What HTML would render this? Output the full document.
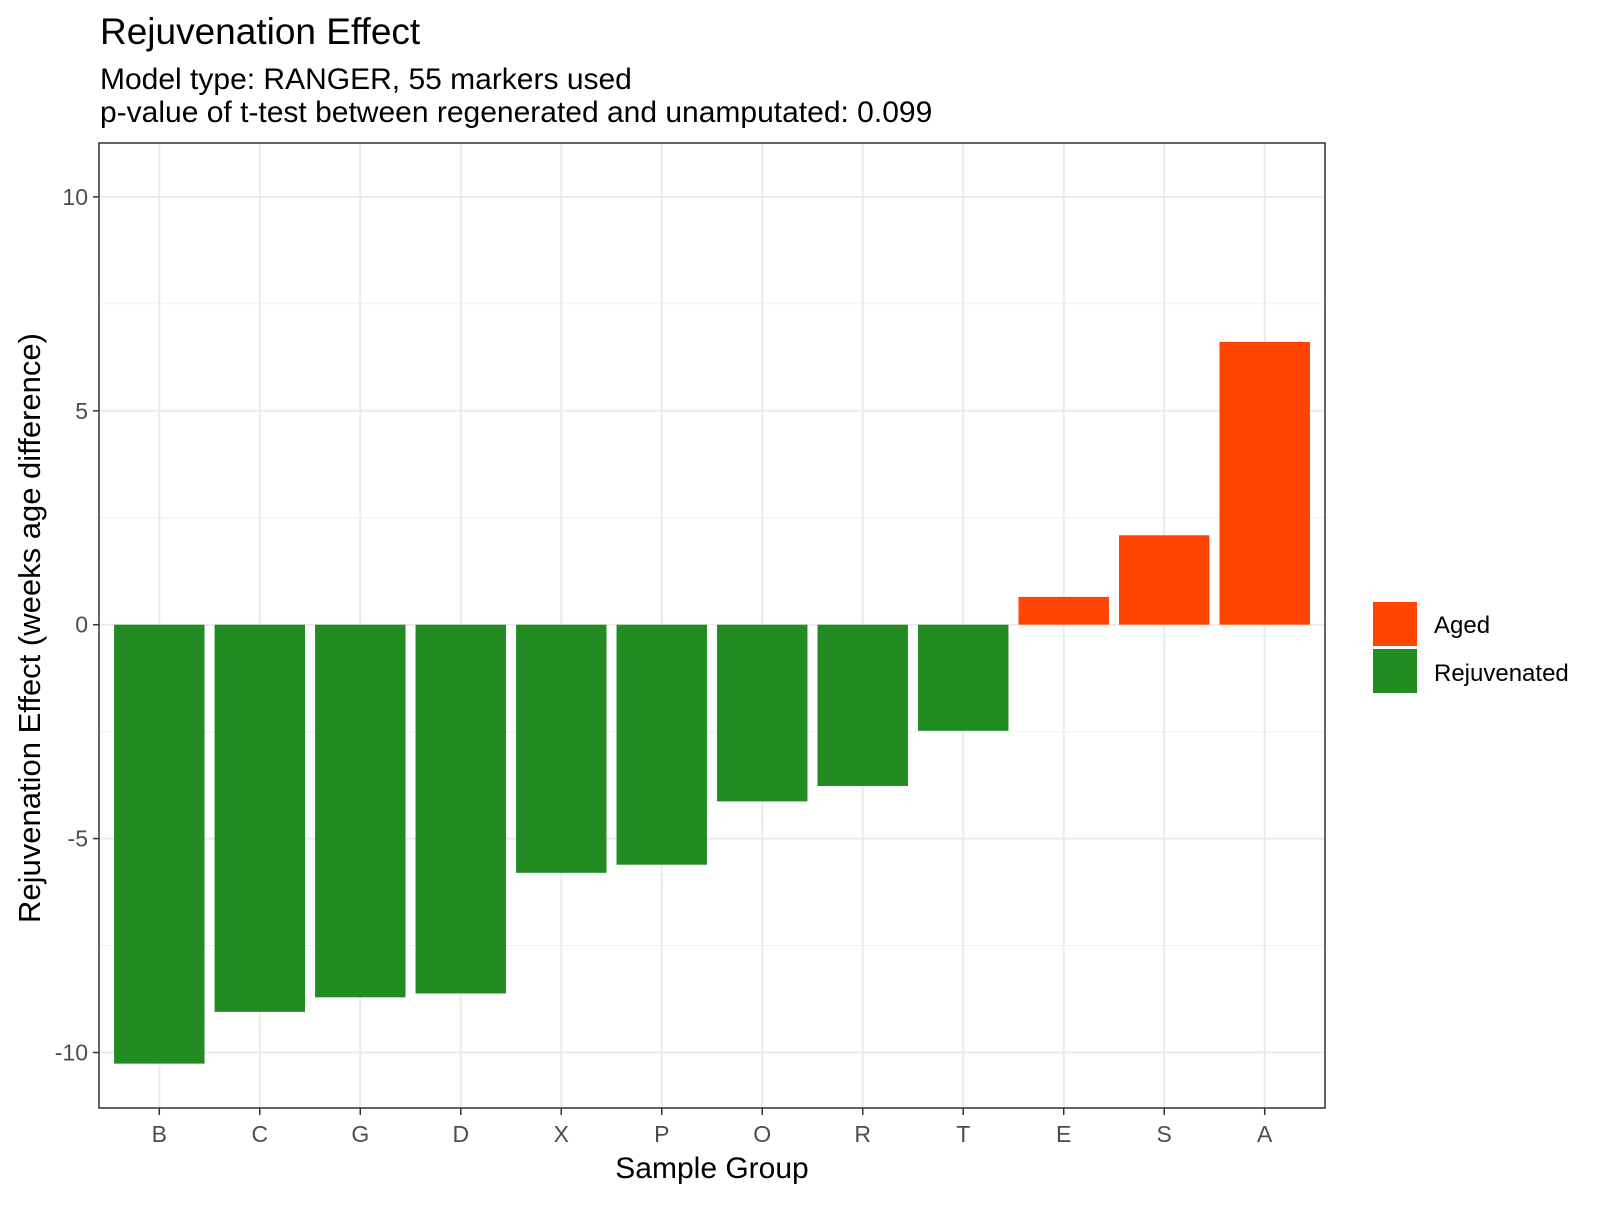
<!DOCTYPE html>
<html><head><meta charset="utf-8"><style>
body{margin:0;background:#fff;}
svg text{font-family:"Liberation Sans",Arial,sans-serif;}
</style></head><body>
<svg id="chart" width="1600" height="1200" viewBox="0 0 1600 1200" xmlns="http://www.w3.org/2000/svg">
<rect width="1600" height="1200" fill="#fff"/>
<text x="100" y="44" font-size="37" fill="#000">Rejuvenation Effect</text>
<text x="100" y="89" font-size="30" fill="#000">Model type: RANGER, 55 markers used</text>
<text x="100" y="122" font-size="30" fill="#000">p-value of t-test between regenerated and unamputated: 0.099</text>
<g id="grid"></g>
<g id="bars"></g>
<rect x="99" y="143" width="1226" height="965" fill="none" stroke="#333" stroke-width="1.5"/>
<g id="axes"></g>
<text x="712" y="1178" font-size="30" text-anchor="middle" fill="#000">Sample Group</text>
<text transform="translate(40,628) rotate(-90)" font-size="31" text-anchor="middle" fill="#000">Rejuvenation Effect (weeks age difference)</text>
<g>
<rect x="1373" y="602" width="44" height="44" fill="#FF4500"/>
<text x="1434" y="633" font-size="24" fill="#000">Aged</text>
<rect x="1373" y="649" width="44" height="44" fill="#228B22"/>
<text x="1434" y="681" font-size="24" fill="#000">Rejuvenated</text>
</g>
</svg>
<script>
const categories = ["B","C","G","D","X","P","O","R","T","E","S","A"];
const values = [-10.26,-9.05,-8.71,-8.62,-5.80,-5.61,-4.13,-3.77,-2.48,0.65,2.09,6.61];
const yTicks = [-10,-5,0,5,10];
const yMinorTicks = [-7.5,-2.5,2.5,7.5];

const NS="http://www.w3.org/2000/svg";
const PL=99, PR=1325, PT=143, PB=1108;
const Y0=624.7, PXU=42.78;
function yScale(v){return Y0 - v*PXU;}
const step=(PR-PL)/(categories.length+0.2);
function xCenter(i){return PL + step*(0.6+i);}
function mk(tag,attrs,parent){const e=document.createElementNS(NS,tag);for(const k in attrs)e.setAttribute(k,attrs[k]);parent.appendChild(e);return e;}
const grid=document.getElementById('grid'), bars=document.getElementById('bars'), axes=document.getElementById('axes');
yMinorTicks.forEach(v=>{const l=mk('line',{x1:PL,x2:PR,y1:yScale(v),y2:yScale(v),stroke:'#f0f0f0','stroke-width':1},grid);

});
yTicks.forEach(v=>{const y=yScale(v);
const l=mk('line',{x1:PL,x2:PR,y1:y,y2:y,stroke:'#ebebeb','stroke-width':2},grid);


const t=mk('line',{x1:93,x2:PL,y1:y,y2:y,stroke:'#333','stroke-width':1.5},axes);


const tx=mk('text',{x:88,y:y+8,'font-size':23,'text-anchor':'end',fill:'#4d4d4d'},axes);tx.textContent=String(v);

});
categories.forEach((c,i)=>{const x=xCenter(i);
const g=mk('line',{x1:x,x2:x,y1:PT,y2:PB,stroke:'#ebebeb','stroke-width':2},grid);


const v=values[i];const w=step*0.9;
const r=mk('rect',{x:x-w/2,y:Math.min(yScale(v),Y0),width:w,height:Math.abs(yScale(v)-Y0),fill:v>0?'#FF4500':'#228B22'},bars);


const t=mk('line',{x1:x,x2:x,y1:PB,y2:PB+7,stroke:'#333','stroke-width':1.5},axes);


const tx=mk('text',{x:x,y:1142,'font-size':23,'text-anchor':'middle',fill:'#4d4d4d'},axes);tx.textContent=c;

});
</script>
</body></html>
